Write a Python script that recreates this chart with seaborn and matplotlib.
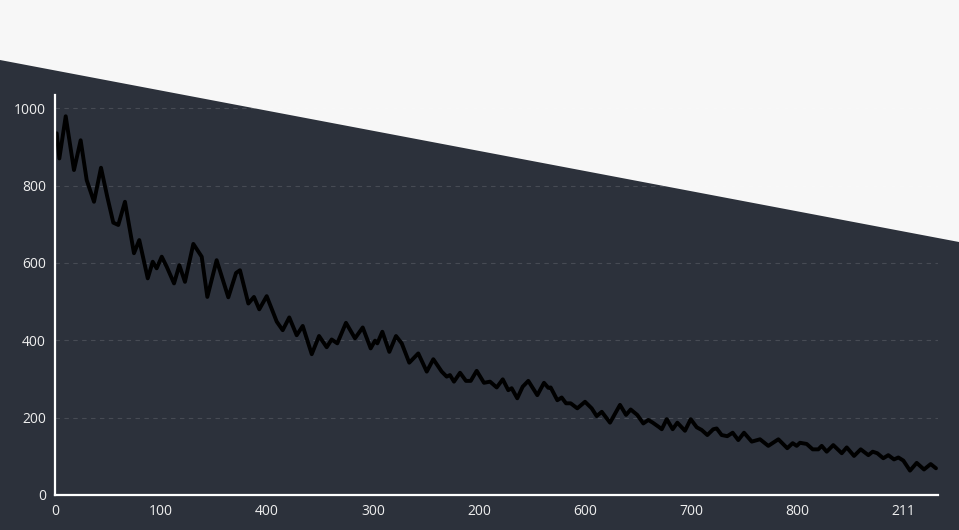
import matplotlib
matplotlib.use("Agg")
import matplotlib.pyplot as plt
import seaborn as sns
import pandas as pd
from matplotlib.patches import Polygon

# values
x_vals = [1.6, 4.1, 10.1, 17.9, 24.2, 29.9, 36.8, 43.4, 49.3, 55.0,
          59.7, 66.0, 74.5, 79.5, 87.5, 92.2, 95.9, 100.7, 105.4, 112.3,
          117.3, 122.6, 130.5, 138.4, 143.7, 152.5, 163.5, 170.8, 174.5, 182.4,
          187.7, 192.7, 199.7, 209.2, 214.8, 221.0, 228.0, 233.7, 242.2, 249.1,
          256.3, 261.0, 266.3, 274.5, 283.0, 290.3, 297.8, 301.9, 304.1, 308.8,
          315.4, 321.7, 327.1, 334.2, 342.7, 350.7, 356.9, 364.8, 369.5, 372.6,
          376.4, 382.1, 387.7, 392.2, 397.8, 404.7, 410.4, 416.7, 422.4, 427.6,
          430.8, 436.1, 441.2, 446.5, 455.0, 461.3, 465.4, 467.6, 473.9, 478.0,
          482.1, 486.5, 492.7, 500.0, 506.3, 511.0, 515.8, 523.6, 533.0, 538.7,
          543.1, 549.3, 555.0, 559.7, 563.9, 570.1, 572.4, 577.1, 582.7, 587.1,
          594.3, 599.7, 605.4, 610.1, 615.4, 621.0, 624.2, 628.9, 634.2, 639.3,
          644.6, 650.0, 657.3, 665.1, 672.9, 682.4, 690.8, 695.9, 699.7, 702.8,
          709.1, 714.8, 720.1, 723.3, 728.0, 734.2, 742.2, 746.9, 753.8, 760.1,
          767.3, 771.4, 775.7, 781.4, 786.1, 791.5, 795.6, 800.3, 806.6, 812.9,
          819.8, 826.1, 831.1]
y_vals = [935, 870, 979, 840, 917, 814, 758, 846, 771, 704,
          698, 758, 625, 659, 560, 603, 586, 616, 590, 547,
          594, 551, 649, 616, 512, 607, 511, 574, 581, 495,
          512, 480, 514, 448, 426, 459, 413, 437, 364, 411,
          382, 402, 392, 445, 405, 433, 379, 399, 392, 422,
          370, 411, 392, 342, 366, 319, 351, 319, 306, 310,
          293, 316, 295, 295, 321, 290, 293, 278, 299, 271,
          276, 250, 280, 295, 258, 290, 277, 278, 245, 252,
          237, 237, 224, 241, 224, 204, 215, 187, 233, 207,
          221, 207, 185, 194, 187, 175, 170, 196, 170, 187,
          166, 196, 175, 168, 155, 170, 172, 155, 152, 161,
          142, 161, 138, 144, 127, 144, 121, 134, 127, 135,
          132, 118, 118, 127, 112, 129, 108, 123, 101, 118,
          103, 112, 108, 95, 103, 92, 97, 89, 63, 83,
          66, 80, 69]

x_ticks = [0, 100, 200, 300, 400, 500, 600, 700, 800]
x_tick_labels = ["0", "100", "400", "300", "200", "600", "700", "800", "211"]
y_ticks = [0, 200, 400, 600, 800, 1000]

df = pd.DataFrame({"x": x_vals, "y": y_vals})

sns.set_style("white")
plt.rcParams["font.family"] = ["Open Sans", "DejaVu Sans"]

fig = plt.figure(figsize=(9.59, 5.30), dpi=100)
fig.patch.set_facecolor("#f7f7f7")

# dark slanted backdrop, kept behind the axes
W, H = 959, 530
pts = [(0, 1 - 60 / H), (1, 1 - 242 / H), (1, 0), (0, 0)]
fig.patches.append(Polygon(pts, closed=True, transform=fig.transFigure,
                           facecolor="#2c313b", edgecolor="none", zorder=-5))

ax = fig.add_axes([55 / W, 1 - 495 / H, (938 - 55) / W, (495 - 95) / H])
ax.set_facecolor("none")
ax.set_zorder(2)

sns.lineplot(data=df, x="x", y="y", ax=ax, color="black", linewidth=2.8)

ax.set_xlim(0, 833)
ax.set_ylim(0, 1034)
ax.set_xticks(x_ticks)
ax.set_xticklabels(x_tick_labels)
ax.set_yticks(y_ticks)
ax.set_xlabel("")
ax.set_ylabel("")

for s in ["top", "right"]:
    ax.spines[s].set_visible(False)
for s in ["left", "bottom"]:
    ax.spines[s].set_color("white")
    ax.spines[s].set_linewidth(1.6)

ax.tick_params(axis="both", colors="#eeeeee", direction="inout", length=9,
               width=1.2, labelsize=10, pad=2)
ax.yaxis.grid(True, color="white", alpha=0.13, linestyle=(0, (4, 4)), linewidth=0.8)
ax.set_axisbelow(True)

fig.savefig("out.png", dpi=100, facecolor=fig.get_facecolor())
